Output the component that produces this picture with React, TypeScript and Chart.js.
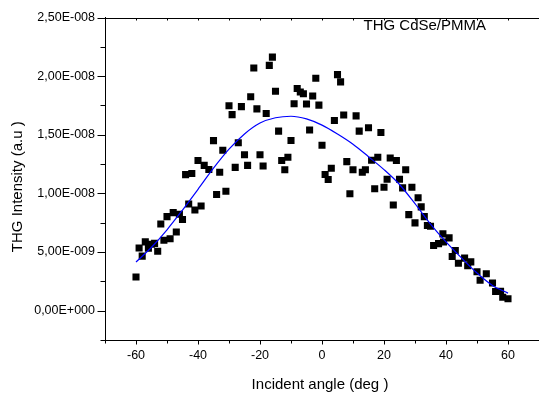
import React, { useEffect, useRef } from 'react';
import { Chart, registerables } from 'chart.js';

Chart.register(...registerables);

// Measured points: incident angle (deg) and THG intensity (units of 1e-9 a.u.)
const ANGLES = [
  -60, -59, -58, -57, -56, -55, -54, -53, -52, -51, -50, -49, -48, -47, -46, -45, -44, -43, -42, -41,
  -40, -39, -38, -36.5, -35, -34, -33, -32, -31, -30, -29, -28, -27, -26, -25, -24, -23, -22, -21, -20,
  -19, -18, -17, -16, -15, -14, -13, -12, -11, -10, -9, -8, -7, -6, -5, -4, -3, -2, -1, 0,
  1, 2, 3, 4, 5, 6, 7, 8, 9, 10, 11, 12, 13, 14, 15, 16, 17, 18, 19, 20,
  21, 22, 23, 24, 25, 26, 27, 28, 29, 30, 31, 32, 33, 34, 35, 36, 37.6, 39, 39.2, 41,
  42, 43, 44, 46, 47, 48, 50, 51, 53, 55, 56, 57.6, 58.3, 60,
];
const INTENSITY = [
  2.87, 5.35, 4.65, 5.87, 5.32, 5.66, 5.74, 5.07, 7.39, 6.0, 8.02, 6.14, 8.36, 6.71, 8.23, 7.77, 11.6, 9.1, 11.7, 8.59,
  12.8, 8.93, 12.39, 12.04, 14.5, 9.91, 11.81, 13.68, 10.19, 17.48, 16.72, 12.22, 14.32, 17.4, 13.3, 12.39, 18.24, 20.69, 17.21, 13.3,
  12.33, 16.81, 20.92, 21.62, 18.71, 15.31, 12.81, 12.01, 13.09, 14.51, 17.64, 18.94, 18.64, 18.5, 17.63, 15.4, 18.3, 19.82, 17.53, 14.1,
  11.61, 11.19, 12.14, 16.22, 20.13, 19.51, 16.68, 12.71, 9.97, 12.01, 16.61, 15.31, 11.81, 12.02, 15.6, 12.82, 10.39, 13.09, 15.2, 10.52,
  11.21, 13.02, 9.01, 12.81, 11.21, 10.47, 12.02, 8.19, 10.52, 7.49, 9.63, 8.85, 8.02, 7.26, 7.2, 5.56, 5.72, 6.55, 5.85, 6.21,
  4.62, 5.13, 4.05, 4.48, 3.83, 4.16, 3.32, 2.59, 3.15, 2.36, 1.63, 1.66, 1.14, 1.01,
];

// Fitted curve (same units)
const FIT_ANGLES = [-60, -55, -50, -45, -40, -35, -30, -25, -20, -15, -10, -5, 0, 5, 10, 15, 20, 25, 30, 35, 40, 45, 50, 55, 60];
const FIT_INTENSITY = [4.15, 5.41, 6.9, 8.58, 10.35, 12.15, 13.77, 15.07, 16.0, 16.45, 16.58, 16.35, 15.82, 15.06, 14.19, 13.13, 12.03, 10.76, 9.12, 7.39, 5.87, 4.5, 3.21, 2.15, 1.5];

const UNIT = 1e-9;

const Y_TICKS = [0, 5e-9, 1e-8, 1.5e-8, 2e-8, 2.5e-8];
const Y_TICK_LABELS = ['0,00E+000', '5,00E-009', '1,00E-008', '1,50E-008', '2,00E-008', '2,50E-008'];
const Y_MINOR = [-2.5e-9, 2.5e-9, 7.5e-9, 1.25e-8, 1.75e-8, 2.25e-8];
const X_TICKS = [-60, -40, -20, 0, 20, 40, 60];
const X_TICK_LABELS = ['-60', '-40', '-20', '0', '20', '40', '60'];
const X_MINOR = [-70, -50, -30, -10, 10, 30, 50, 70];
const TOP_TICKS = [-60, -50, -40, -30, -20, -10, 0, 10, 20, 30, 40, 50, 60, 70];

const PLOT_LABEL = 'THG CdSe/PMMA';
const X_TITLE = 'Incident angle (deg )';
const Y_TITLE = 'THG Intensity (a.u )';

const FONT = '"Liberation Sans", Arial, sans-serif';

const originPlugin = {
  id: 'originDecor',
  afterDraw(chart: any) {
    const { ctx, chartArea: a, scales } = chart;
    const x = scales.x;
    const y = scales.y;
    ctx.save();
    ctx.strokeStyle = '#000';
    ctx.lineWidth = 1;
    ctx.beginPath();
    const top = Math.round(a.top) + 0.5;
    ctx.moveTo(a.left, top);
    ctx.lineTo(a.right, top);
    const left = Math.round(a.left) + 0.5;
    const bottom = Math.round(a.bottom) + 0.5;
    for (const v of Y_TICKS) {
      const p = Math.round(y.getPixelForValue(v)) + 0.5;
      ctx.moveTo(left, p);
      ctx.lineTo(left - 8, p);
    }
    for (const v of Y_MINOR) {
      const p = Math.round(y.getPixelForValue(v)) + 0.5;
      ctx.moveTo(left, p);
      ctx.lineTo(left - 5, p);
    }
    for (const v of X_TICKS) {
      const p = Math.round(x.getPixelForValue(v)) + 0.5;
      ctx.moveTo(p, bottom);
      ctx.lineTo(p, bottom + 4);
    }
    for (const v of X_MINOR) {
      const p = Math.round(x.getPixelForValue(v)) + 0.5;
      ctx.moveTo(p, bottom);
      ctx.lineTo(p, bottom + 3);
    }
    for (const v of TOP_TICKS) {
      const p = Math.round(x.getPixelForValue(v)) + 0.5;
      ctx.moveTo(p, top);
      ctx.lineTo(p, top + 2);
    }
    ctx.stroke();

    ctx.fillStyle = '#000';
    ctx.font = '15px ' + FONT;
    ctx.textBaseline = 'alphabetic';
    ctx.textAlign = 'right';
    ctx.fillText(PLOT_LABEL, a.right - 53, a.top + 12);

    ctx.textAlign = 'center';
    ctx.fillText(X_TITLE, (a.left + a.right) / 2 - 2, a.bottom + 49);

    ctx.translate(a.left - 87, (a.top + a.bottom) / 2 + 8);
    ctx.rotate(-Math.PI / 2);
    ctx.textBaseline = 'middle';
    ctx.fillText(Y_TITLE, 0, 0);
    ctx.restore();
  },
};

export default function App() {
  const ref = useRef<HTMLCanvasElement | null>(null);

  useEffect(() => {
    if (!ref.current) return;
    const points = ANGLES.map((a, i) => ({ x: a, y: INTENSITY[i] * UNIT }));
    const fit = FIT_ANGLES.map((a, i) => ({ x: a, y: FIT_INTENSITY[i] * UNIT }));
    const chart = new Chart(ref.current, {
      type: 'scatter',
      data: {
        datasets: [
          {
            label: 'fit',
            data: fit,
            showLine: true,
            borderColor: '#0000ff',
            borderWidth: 1.2,
            pointRadius: 0,
            cubicInterpolationMode: 'monotone',
            fill: false,
          } as any,
          {
            label: PLOT_LABEL,
            data: points,
            pointStyle: 'rect',
            pointRadius: 5,
            pointBackgroundColor: '#000',
            pointBorderWidth: 0,
            showLine: false,
          } as any,
        ],
      },
      options: {
        animation: false,
        responsive: false,
        devicePixelRatio: 1,
        layout: { padding: { top: 14, right: 1, left: 0, bottom: 0 } },
        plugins: { legend: { display: false }, tooltip: { enabled: false }, title: { display: false } },
        scales: {
          x: {
            type: 'linear',
            min: -70,
            max: 70,
            grid: { display: false, drawTicks: false },
            border: { display: true, color: '#000', width: 1 },
            afterBuildTicks: (s: any) => {
              s.ticks = X_TICKS.map((v) => ({ value: v }));
            },
            ticks: {
              autoSkip: false,
              maxRotation: 0,
              padding: 8,
              color: '#000',
              font: { family: FONT, size: 12.5 },
              callback: (v: any) => {
                const i = X_TICKS.indexOf(Number(v));
                return i >= 0 ? X_TICK_LABELS[i] : '';
              },
            },
            afterFit: (s: any) => {
              s.height = 56;
            },
          },
          y: {
            type: 'linear',
            min: -2.5e-9,
            max: 2.5e-8,
            grid: { display: false, drawTicks: false },
            border: { display: true, color: '#000', width: 1 },
            afterBuildTicks: (s: any) => {
              s.ticks = Y_TICKS.map((v) => ({ value: v }));
            },
            ticks: {
              autoSkip: false,
              padding: 10,
              color: '#000',
              font: { family: FONT, size: 12.5 },
              callback: (v: any) => {
                const i = Y_TICKS.findIndex((t) => Math.abs(t - Number(v)) < 1e-13);
                return i >= 0 ? Y_TICK_LABELS[i] : '';
              },
            },
            afterFit: (s: any) => {
              s.width = 105;
            },
          },
        },
      },
      plugins: [originPlugin],
    } as any);
    return () => chart.destroy();
  }, []);

  return (
    <div style={{ position: 'fixed', left: 0, top: 0, width: 539, height: 396, overflow: 'hidden', background: '#fff' }}>
      <canvas ref={ref} width={544} height={396} style={{ display: 'block', width: 544, height: 396 }} />
    </div>
  );
}
